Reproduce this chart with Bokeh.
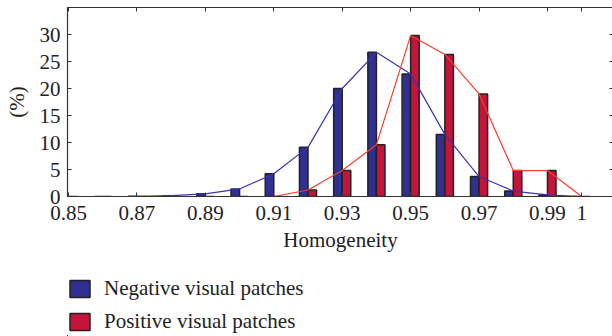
from bokeh.plotting import figure
from bokeh.layouts import column
from bokeh.models import (ColumnDataSource, Range1d, LinearAxis, FixedTicker, Legend, LegendItem,
                          CustomLabelingPolicy)
from bokeh.transform import dodge
from bokeh.embed import file_html
from bokeh.resources import INLINE

homogeneity = [0.85, 0.86, 0.87, 0.88, 0.89, 0.90, 0.91, 0.92, 0.93, 0.94, 0.95, 0.96, 0.97, 0.98, 0.99, 1.00]
negative = [0.0, 0.0, 0.05, 0.15, 0.5, 1.4, 4.2, 9.1, 20.0, 26.7, 22.7, 11.5, 3.7, 1.0, 0.3, 0.0]
positive = [0.0, 0.0, 0.0, 0.0, 0.0, 0.0, 0.0, 1.2, 4.8, 9.6, 29.8, 26.3, 19.0, 4.8, 4.8, 0.0]
x_ticks = [0.85, 0.87, 0.89, 0.91, 0.93, 0.95, 0.97, 0.99, 1.0]
x_tick_labels = {0.85: "0.85", 0.87: "0.87", 0.89: "0.89", 0.91: "0.91", 0.93: "0.93",
                 0.95: "0.95", 0.97: "0.97", 0.99: "0.99", 1.0: "1"}
y_ticks = [0, 5, 10, 15, 20, 25, 30]
labels = ["Negative visual patches", "Positive visual patches"]

BLUE = "#2f3091"
RED = "#c4143a"
BLUE_LINE = "#3a34b0"
RED_LINE = "#f4402a"
FONT = "Liberation Serif"
FS = "21px"
EDGE = "#222222"

src = ColumnDataSource(dict(x=homogeneity, neg=negative, pos=positive))

p = figure(frame_width=546, frame_height=189, output_backend="svg", toolbar_location=None,
           x_range=Range1d(0.8497, 1.0093), y_range=Range1d(0, 35),
           min_border_left=67, min_border_right=0, min_border_top=7, min_border_bottom=62,
           background_fill_color="white", border_fill_color="white")
p.xgrid.visible = False
p.ygrid.visible = False
p.outline_line_color = "#333333"
p.outline_line_width = 1.2

bw = 0.0025
rn = p.vbar(x=dodge("x", -bw / 2, range=p.x_range), top="neg", width=bw, source=src,
            fill_color=BLUE, line_color=EDGE, line_width=1.5)
rp = p.vbar(x=dodge("x", bw / 2, range=p.x_range), top="pos", width=bw, source=src,
            fill_color=RED, line_color=EDGE, line_width=1.5)
p.line("x", "neg", source=src, line_color=BLUE_LINE, line_width=1.2)
p.line("x", "pos", source=src, line_color=RED_LINE, line_width=1.2)

xa = p.xaxis[0]
xa.ticker = FixedTicker(ticks=x_ticks)
xa.major_label_overrides = x_tick_labels
ya = p.yaxis[0]
ya.ticker = FixedTicker(ticks=y_ticks)
for ax in (xa, ya):
    ax.major_tick_in = 4
    ax.major_tick_out = 0
    ax.minor_tick_in = 0
    ax.minor_tick_out = 0
    ax.axis_line_color = "#333333"
    ax.major_tick_line_color = "#333333"
    ax.major_label_text_font = FONT
    ax.major_label_text_font_size = FS
    ax.major_label_text_color = "#222222"
    ax.axis_label_text_font = FONT
    ax.axis_label_text_font_size = FS
    ax.axis_label_text_font_style = "normal"
    ax.axis_label_text_color = "#222222"
xa.axis_label = "Homogeneity"
xa.major_label_standoff = 9
xa.axis_label_standoff = 5
ya.axis_label = "(%)"
ya.major_label_standoff = 7
ya.axis_label_standoff = 8

code = "for (const i of Array.from(indices)) indices.unset(i); return indices"
top = LinearAxis(ticker=FixedTicker(ticks=x_ticks), major_tick_in=4, major_tick_out=0,
                 minor_tick_in=0, minor_tick_out=0, major_label_policy=CustomLabelingPolicy(code=code),
                 major_label_text_font_size="1px", major_label_standoff=0,
                 axis_line_color="#333333", major_tick_line_color="#333333")
right = LinearAxis(ticker=FixedTicker(ticks=y_ticks), major_tick_in=4, major_tick_out=0,
                   minor_tick_in=0, minor_tick_out=0, major_label_policy=CustomLabelingPolicy(code=code),
                   major_label_text_font_size="1px", major_label_standoff=0,
                   axis_line_color="#333333", major_tick_line_color="#333333")
p.add_layout(top, "above")
p.add_layout(right, "right")

# legend strip below the chart
q = figure(width=612, height=78, output_backend="svg", toolbar_location=None,
           x_range=Range1d(10, 11), y_range=Range1d(100, 101),
           x_axis_type=None, y_axis_type=None, min_border=0,
           background_fill_color="white", border_fill_color="white")
q.xgrid.visible = False
q.ygrid.visible = False
q.outline_line_color = None
ln = q.vbar(x="x", top="neg", width=bw, source=src, fill_color=BLUE, line_color=EDGE, line_width=1.5)
lp = q.vbar(x="x", top="pos", width=bw, source=src, fill_color=RED, line_color=EDGE, line_width=1.5)
legend = Legend(items=[LegendItem(label=labels[0], renderers=[ln]),
                       LegendItem(label=labels[1], renderers=[lp])],
                orientation="vertical", location=(0, 2),
                label_text_font=FONT, label_text_font_size=FS, label_text_color="#222222",
                glyph_width=25, glyph_height=21, label_standoff=12, spacing=8,
                padding=0, margin=0, border_line_color=None, background_fill_alpha=0)
q.add_layout(legend, "center")

layout = column(p, q, spacing=0)
open("out.html", "w").write(file_html(layout, INLINE))
